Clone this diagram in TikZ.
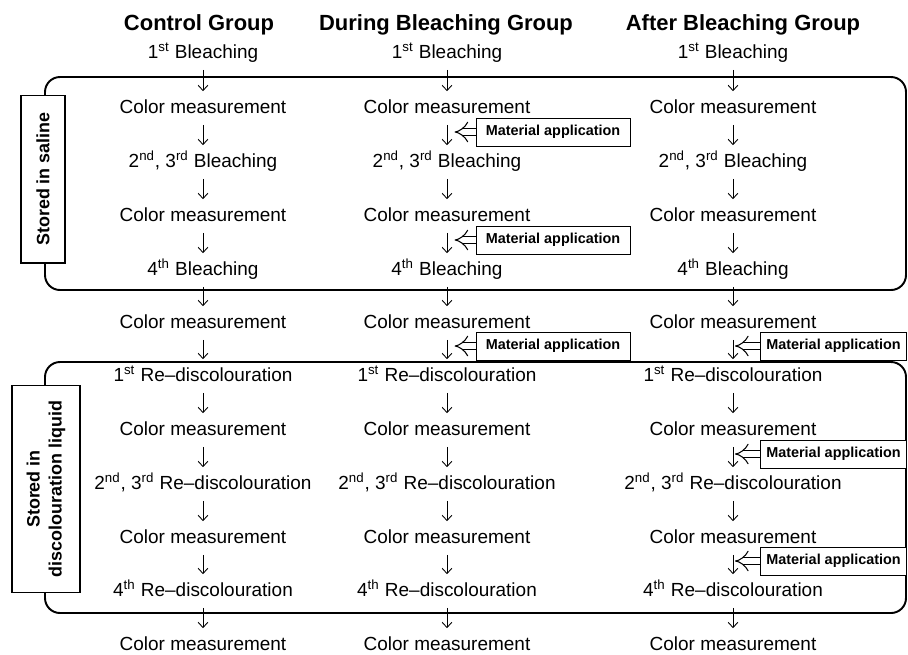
\documentclass[tikz,border=0pt]{standalone}
\usepackage{fontspec}
\setmainfont{Liberation Sans}
\usetikzlibrary{arrows.meta, positioning}

\tikzset{
  stage/.style={font=\fontsize{10.8}{13}\selectfont, inner sep=0pt, text height=8pt, text depth=2.2pt},
  grouphead/.style={font=\fontsize{12.5}{15}\selectfont\bfseries, inner sep=0pt},
  arr/.style={-{Straight Barb[length=3pt,width=5.5pt]}, line width=0.5pt, shorten <=0.15cm, shorten >=0.15cm},
  storebox/.style={line width=1.1pt, rounded corners=0.3cm},
  storelabel/.style={draw, fill=white, line width=0.6pt, rotate=90, align=center, font=\fontsize{10.2}{12.5}\selectfont\bfseries},
  matbox/.style={draw, fill=white, line width=0.5pt, minimum width=3.08cm, minimum height=0.56cm, font=\fontsize{8.2}{10}\selectfont\bfseries},
  dbl/.style={double, double distance=3.6pt, line width=0.6pt, -{Implies[length=4pt]}}
}

\begin{document}
\begin{tikzpicture}[x=0.02cm, y=-0.02cm]
  \useasboundingbox (0,0) rectangle (908,654);

  % storage periods
  \draw[storebox] (45,77) rectangle (906,290);
  \draw[storebox] (45,362) rectangle (906,613);
  \node[storelabel, minimum width=3.36cm, minimum height=0.88cm] (saline) at (43,179) {Stored in saline};
  \node[storelabel, minimum width=4.14cm, minimum height=1.36cm] (liquid) at (46,489) {Stored in\\discolouration liquid};

  % headers
  \node[grouphead] (hc) at (199,25) {Control Group};
  \node[grouphead] (hd) at (446,25) {During Bleaching Group};
  \node[grouphead] (ha) at (743,25) {After Bleaching Group};

  % control group
  \node[stage] (c1) at (203,53) {1\textsuperscript{st} Bleaching};
  \node[stage] (c2) at (203,108) {Color measurement};
  \node[stage] (c3) at (203,162) {2\textsuperscript{nd}, 3\textsuperscript{rd} Bleaching};
  \node[stage] (c4) at (203,216) {Color measurement};
  \node[stage] (c5) at (203,270) {4\textsuperscript{th} Bleaching};
  \node[stage] (c6) at (203,323) {Color measurement};
  \node[stage] (c7) at (203,376) {1\textsuperscript{st} Re--discolouration};
  \node[stage] (c8) at (203,430) {Color measurement};
  \node[stage] (c9) at (203,484) {2\textsuperscript{nd}, 3\textsuperscript{rd} Re--discolouration};
  \node[stage] (c10) at (203,538) {Color measurement};
  \node[stage] (c11) at (203,591) {4\textsuperscript{th} Re--discolouration};
  \node[stage] (c12) at (203,645) {Color measurement};

  % during bleaching group
  \node[stage] (d1) at (447,53) {1\textsuperscript{st} Bleaching};
  \node[stage] (d2) at (447,108) {Color measurement};
  \node[stage] (d3) at (447,162) {2\textsuperscript{nd}, 3\textsuperscript{rd} Bleaching};
  \node[stage] (d4) at (447,216) {Color measurement};
  \node[stage] (d5) at (447,270) {4\textsuperscript{th} Bleaching};
  \node[stage] (d6) at (447,323) {Color measurement};
  \node[stage] (d7) at (447,376) {1\textsuperscript{st} Re--discolouration};
  \node[stage] (d8) at (447,430) {Color measurement};
  \node[stage] (d9) at (447,484) {2\textsuperscript{nd}, 3\textsuperscript{rd} Re--discolouration};
  \node[stage] (d10) at (447,538) {Color measurement};
  \node[stage] (d11) at (447,591) {4\textsuperscript{th} Re--discolouration};
  \node[stage] (d12) at (447,645) {Color measurement};

  % after bleaching group
  \node[stage] (a1) at (733,53) {1\textsuperscript{st} Bleaching};
  \node[stage] (a2) at (733,108) {Color measurement};
  \node[stage] (a3) at (733,162) {2\textsuperscript{nd}, 3\textsuperscript{rd} Bleaching};
  \node[stage] (a4) at (733,216) {Color measurement};
  \node[stage] (a5) at (733,270) {4\textsuperscript{th} Bleaching};
  \node[stage] (a6) at (733,323) {Color measurement};
  \node[stage] (a7) at (733,376) {1\textsuperscript{st} Re--discolouration};
  \node[stage] (a8) at (733,430) {Color measurement};
  \node[stage] (a9) at (733,484) {2\textsuperscript{nd}, 3\textsuperscript{rd} Re--discolouration};
  \node[stage] (a10) at (733,538) {Color measurement};
  \node[stage] (a11) at (733,591) {4\textsuperscript{th} Re--discolouration};
  \node[stage] (a12) at (733,645) {Color measurement};

  % flow arrows
  \path (c1) edge[arr] (c2) (c2) edge[arr] (c3) (c3) edge[arr] (c4) (c4) edge[arr] (c5)
        (c5) edge[arr] (c6) (c6) edge[arr] (c7) (c7) edge[arr] (c8) (c8) edge[arr] (c9)
        (c9) edge[arr] (c10) (c10) edge[arr] (c11) (c11) edge[arr] (c12);
  \path (d1) edge[arr] (d2) (d2) edge[arr] (d3) (d3) edge[arr] (d4) (d4) edge[arr] (d5)
        (d5) edge[arr] (d6) (d6) edge[arr] (d7) (d7) edge[arr] (d8) (d8) edge[arr] (d9)
        (d9) edge[arr] (d10) (d10) edge[arr] (d11) (d11) edge[arr] (d12);
  \path (a1) edge[arr] (a2) (a2) edge[arr] (a3) (a3) edge[arr] (a4) (a4) edge[arr] (a5)
        (a5) edge[arr] (a6) (a6) edge[arr] (a7) (a7) edge[arr] (a8) (a8) edge[arr] (a9)
        (a9) edge[arr] (a10) (a10) edge[arr] (a11) (a11) edge[arr] (a12);

  % material application
  \node[matbox] (md1) at (553,132) {Material application};
  \node[matbox] (md2) at (553,240) {Material application};
  \node[matbox] (md3) at (553,346) {Material application};
  \node[matbox, anchor=west, minimum width=2.92cm] (ma1) at (760,346) {Material application};
  \node[matbox, anchor=west, minimum width=2.92cm] (ma2) at (760,454) {Material application};
  \node[matbox, anchor=west, minimum width=2.92cm] (ma3) at (760,561) {Material application};

  \coordinate[left=0.42cm of md1.west] (td1);
  \coordinate[left=0.42cm of md2.west] (td2);
  \coordinate[left=0.42cm of md3.west] (td3);
  \coordinate[left=0.5cm of ma1.west] (ta1);
  \coordinate[left=0.5cm of ma2.west] (ta2);
  \coordinate[left=0.5cm of ma3.west] (ta3);
  \draw[dbl] (md1.west) -- (td1);
  \draw[dbl] (md2.west) -- (td2);
  \draw[dbl] (md3.west) -- (td3);
  \draw[dbl] (ma1.west) -- (ta1);
  \draw[dbl] (ma2.west) -- (ta2);
  \draw[dbl] (ma3.west) -- (ta3);
\end{tikzpicture}
\end{document}
